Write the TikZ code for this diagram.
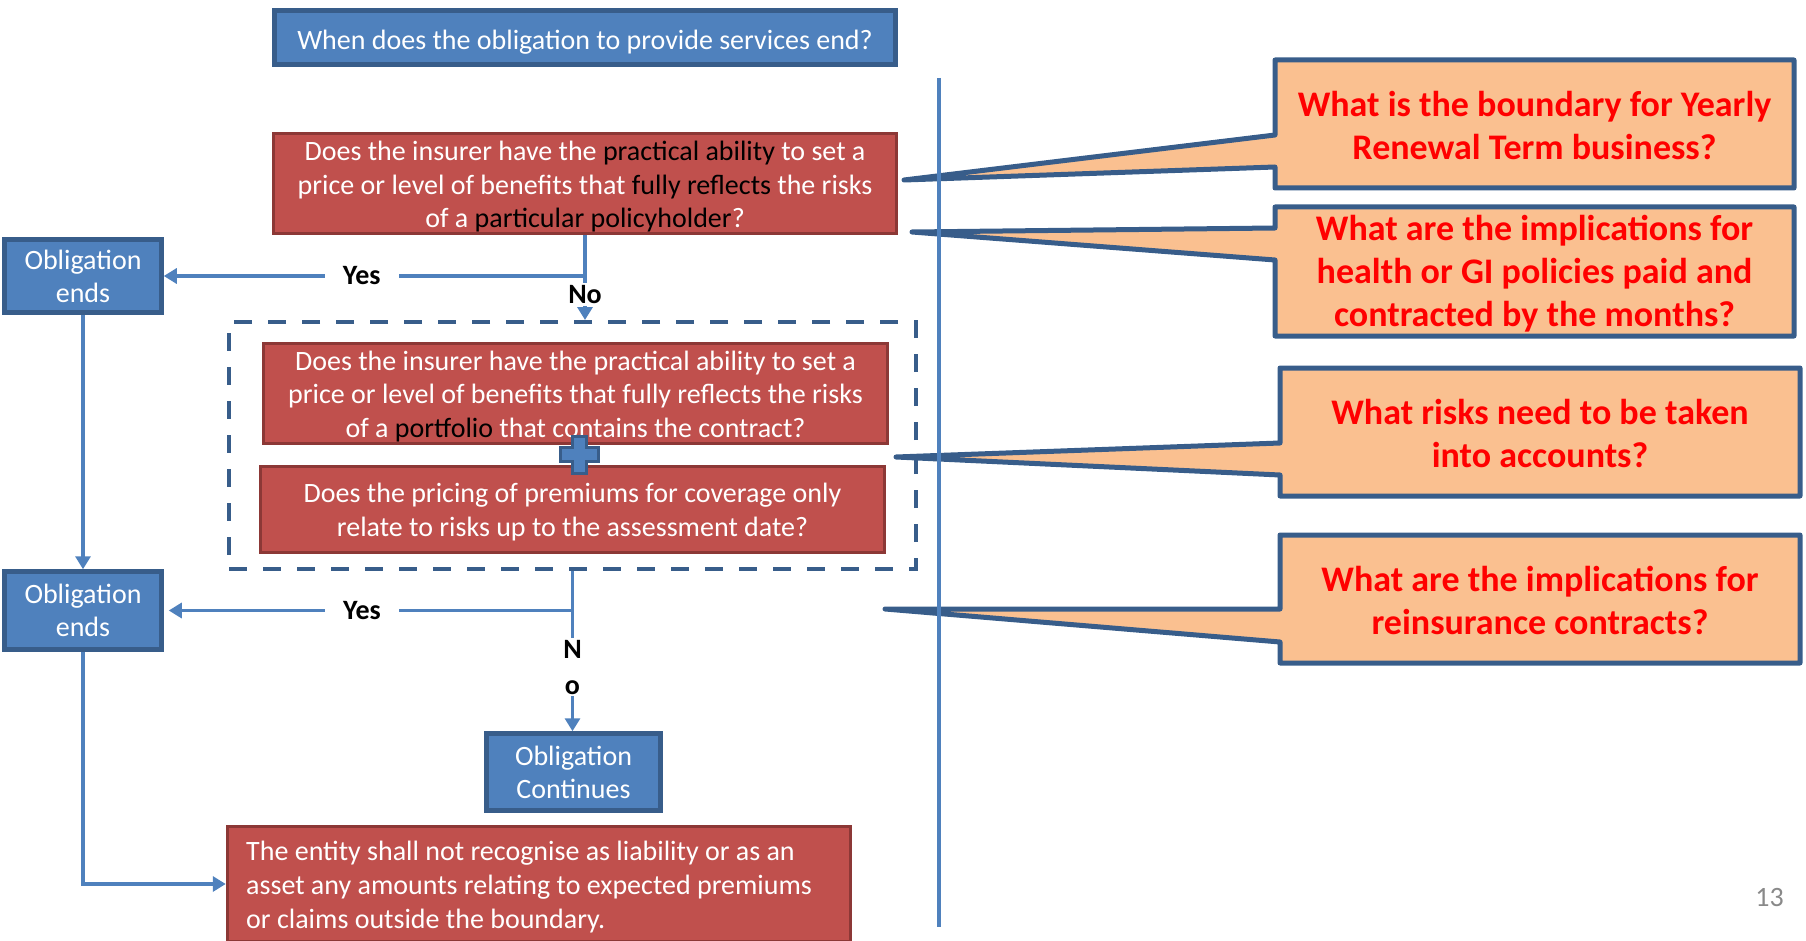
\documentclass[tikz,border=0pt]{standalone}
\usepackage{fontspec}
\setmainfont{Carlito}
\usetikzlibrary{arrows.meta}
\definecolor{bblue}{HTML}{4F81BD}
\definecolor{bdark}{HTML}{385D8A}
\definecolor{rred}{HTML}{C0504D}
\definecolor{rdark}{HTML}{8C3836}
\definecolor{corange}{HTML}{FAC090}
\definecolor{pgnum}{HTML}{898989}
\definecolor{cred}{HTML}{FF0000}
\newcommand{\fsz}[2]{\fontsize{#1}{#2}\selectfont}
\newcommand{\dk}[1]{\textcolor{black}{#1}}
\begin{document}
\begin{tikzpicture}[x=1pt,y=-1pt,
  bluebox/.style={draw=bdark, fill=bblue, line width=4.5pt, text=white, inner sep=0pt, align=center, font=\fsz{28}{33}},
  redbox/.style={draw=rdark, fill=rred, line width=3.5pt, inner sep=0pt},
  boxtext/.style={text=white, inner sep=0pt, align=center, font=\fsz{28}{33.5}},
  dashbox/.style={draw=bdark, line width=4pt, dash pattern=on 18pt off 16pt, inner sep=0pt},
  conn/.style={draw=bblue, line width=3.5pt},
  arr/.style={-{Triangle[length=13pt,width=15pt]}},
  lbl/.style={fill=white, text=black, font=\bfseries\fsz{28}{36}, inner xsep=18pt, inner ysep=2pt, align=center},
  callout/.style={draw=bdark, fill=corange, line width=5pt, line join=round},
  ctext/.style={text=cred, font=\bfseries\fsz{36}{43}, align=center, inner sep=0pt},
  sepline/.style={draw=bblue, line width=4pt}
]
\useasboundingbox (0,0) rectangle (1806,941);

% callouts (drawn first; separator drawn over them)
\draw[callout] (1275,60) -- (1794,60) -- (1794,188) -- (1275,188) -- (1275,167) -- (904,180) -- (1275,135) -- cycle;
\node[ctext] (c1) at (1534.5,126) {What is the boundary for Yearly\\Renewal Term business?};
\draw[callout] (1275,207) -- (1794,207) -- (1794,336) -- (1275,336) -- (1275,260) -- (912,232) -- (1275,228) -- cycle;
\node[ctext] (c2) at (1534.5,273.5) {What are the implications for\\health or GI policies paid and\\contracted by the months?};
\draw[callout] (1280,368) -- (1800,368) -- (1800,496) -- (1280,496) -- (1280,475) -- (896,457) -- (1280,443) -- cycle;
\node[ctext] (c3) at (1540,433) {What risks need to be taken\\into accounts?};
\draw[callout] (1280,535) -- (1800,535) -- (1800,663) -- (1280,663) -- (1280,642) -- (885,609) -- (1280,609) -- cycle;
\node[ctext] (c4) at (1540,600.5) {What are the implications for\\reinsurance contracts?};

% separator
\coordinate (sepT) at (939,78);
\coordinate (sepB) at (939,927);
\draw[sepline] (sepT) -- (sepB);

% boxes
\node[bluebox, minimum width=621pt, minimum height=54pt] (q0) at (585,37.5) {};
\node[boxtext] (q0t) at ([yshift=-4.5pt]q0.center) {When does the obligation to provide services end?};
\node[redbox, minimum width=623pt, minimum height=100pt] (q1) at (585,183.5) {};
\node[boxtext] (q1t) at ([yshift=-3.5pt]q1.center)
  {Does the insurer have the \dk{practical ability} to set a\\price or level of benefits that \dk{fully reflects} the risks\\of a \dk{particular policyholder}?};
\node[bluebox, minimum width=157pt, minimum height=73pt] (ob1) at (83,276) {Obligation\\ends};
\node[dashbox, minimum width=687pt, minimum height=247pt] (grp) at (572.5,445.5) {};
\node[redbox, minimum width=624pt, minimum height=100pt] (q2) at (575.5,393.5) {};
\node[boxtext] (q2t) at ([yshift=-3pt]q2.center)
  {Does the insurer have the practical ability to set a\\price or level of benefits that fully reflects the risks\\of a \dk{portfolio} that contains the contract?};
\node[redbox, minimum width=624pt, minimum height=86pt] (q3) at (572.5,509.5) {};
\node[boxtext] (q3t) at ([yshift=-2.5pt]q3.center)
  {Does the pricing of premiums for coverage only\\relate to risks up to the assessment date?};
\node[bluebox, minimum width=157pt, minimum height=78pt] (ob2) at (83,610.5) {Obligation\\ends};
\node[bluebox, minimum width=174pt, minimum height=77pt] (cont) at (573.5,772) {Obligation\\Continues};
\node[redbox, minimum width=623pt, minimum height=115pt] (rec) at (539,884) {};
\node[boxtext, align=left, anchor=west, font=\fsz{28}{34}] (rect) at (246,887.5)
  {The entity shall not recognise as liability or as an\\asset any amounts relating to expected premiums\\or claims outside the boundary.};

% plus sign
\draw[draw=bdark, fill=bblue, line width=3pt] (572,436) -- (586,436) -- (586,447) -- (598,447) -- (598,461) -- (586,461) -- (586,473) -- (572,473) -- (572,461) -- (560,461) -- (560,447) -- (572,447) -- cycle;

% connectors
\draw[conn, arr] (q1.south) -- (q1.south |- ob1.east) -- node[lbl, pos=0.53] {Yes} (ob1.east);
\draw[conn, arr] (q1.south |- ob1.east) -- node[lbl, pos=0.42] {No} (q1.south |- grp.north);
\draw[conn, arr] (ob1.south) -- (ob2.north);
\draw[conn, arr, shorten >=5pt] (grp.south) -- (grp.south |- ob2.east) -- node[lbl, pos=0.515] {Yes} (ob2.east);
\draw[conn, arr] (grp.south |- ob2.east) -- node[lbl, pos=0.47] {N\\o} (grp.south |- cont.north);
\draw[conn, arr] (ob2.south) |- (rec.west);

% page number
\node[text=pgnum, font=\fsz{28}{34}, inner sep=0pt] (pg) at (1769.5,897.5) {13};
\end{tikzpicture}
\end{document}
